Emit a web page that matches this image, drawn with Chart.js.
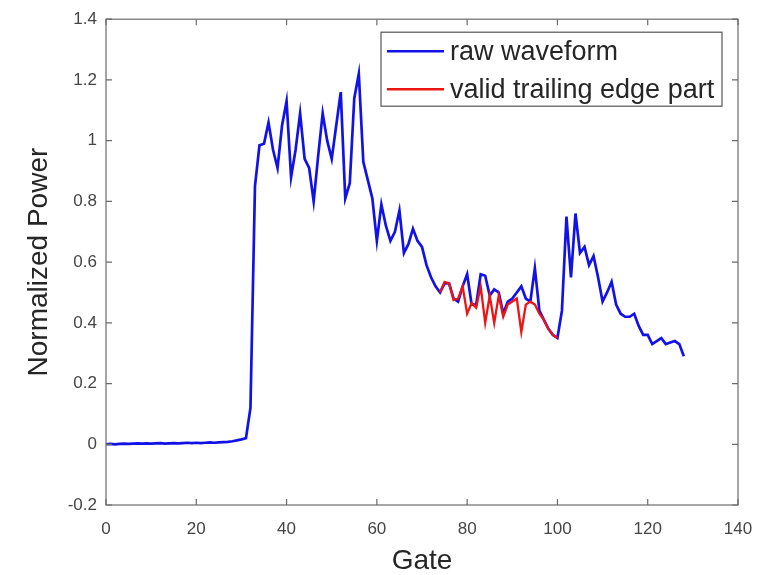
<!DOCTYPE html>
<html>
<head>
<meta charset="utf-8">
<script src="https://cdn.jsdelivr.net/npm/chart.js@4"></script>
<style>
  html, body { margin: 0; padding: 0; background: #fff; }
  #wrap { width: 771px; height: 575px; }
</style>
</head>
<body>
<div id="wrap"><canvas id="chart"></canvas></div>
<script>
'use strict';

// ── Datos ───────────────────────────────────────────
const gates = [
  0, 1, 2, 3, 4, 5, 6, 7, 8, 9,
  10, 11, 12, 13, 14, 15, 16, 17, 18, 19,
  20, 21, 22, 23, 24, 25, 26, 27, 28, 29,
  30, 31, 32, 33, 34, 35, 36, 37, 38, 39,
  40, 41, 42, 43, 44, 45, 46, 47, 48, 49,
  50, 51, 52, 53, 54, 55, 56, 57, 58, 59,
  60, 61, 62, 63, 64, 65, 66, 67, 68, 69,
  70, 71, 72, 73, 74, 75, 76, 77, 78, 79,
  80, 81, 82, 83, 84, 85, 86, 87, 88, 89,
  90, 91, 92, 93, 94, 95, 96, 97, 98, 99,
  100, 101, 102, 103, 104, 105, 106, 107, 108, 109,
  110, 111, 112, 113, 114, 115, 116, 117, 118, 119,
  120, 121, 122, 123, 124, 125, 126, 127, 128,
];
const rawWaveform = [
  0.000, 0.001, 0.000, 0.001, 0.002, 0.001, 0.002, 0.003, 0.002, 0.003,
  0.002, 0.003, 0.004, 0.002, 0.003, 0.004, 0.003, 0.004, 0.005, 0.004,
  0.005, 0.004, 0.005, 0.006, 0.005, 0.006, 0.007, 0.008, 0.010, 0.013,
  0.016, 0.020, 0.120, 0.850, 0.985, 0.990, 1.060, 0.970, 0.910, 1.050,
  1.130, 0.880, 0.970, 1.090, 0.940, 0.910, 0.800, 0.950, 1.090, 1.000,
  0.940, 1.050, 1.160, 0.810, 0.860, 1.140, 1.220, 0.930, 0.870, 0.810,
  0.670, 0.790, 0.720, 0.670, 0.700, 0.770, 0.630, 0.660, 0.710, 0.670,
  0.650, 0.590, 0.550, 0.520, 0.500, 0.530, 0.530, 0.480, 0.470, 0.520,
  0.560, 0.460, 0.460, 0.560, 0.555, 0.490, 0.510, 0.500, 0.430, 0.470,
  0.480, 0.500, 0.520, 0.480, 0.470, 0.580, 0.440, 0.410, 0.380, 0.360,
  0.350, 0.440, 0.750, 0.550, 0.760, 0.630, 0.650, 0.590, 0.620, 0.550,
  0.470, 0.500, 0.535, 0.460, 0.430, 0.420, 0.420, 0.430, 0.390, 0.360,
  0.360, 0.330, 0.340, 0.350, 0.330, 0.335, 0.340, 0.330, 0.290,
];
const validGates = [
  74, 75, 76, 77, 78, 79, 80, 81, 82, 83,
  84, 85, 86, 87, 88, 89, 90, 91, 92, 93,
  94, 95, 96, 97, 98, 99, 100,
];
const validTrailing = [
  0.500, 0.535, 0.530, 0.475, 0.480, 0.520, 0.430, 0.465, 0.450, 0.520,
  0.400, 0.490, 0.400, 0.490, 0.420, 0.460, 0.470, 0.480, 0.370, 0.460,
  0.470, 0.460, 0.430, 0.410, 0.380, 0.360, 0.350,
];
const xTicks = [0, 20, 40, 60, 80, 100, 120, 140];
const yTicks = [-0.2, 0, 0.2, 0.4, 0.6, 0.8, 1, 1.2, 1.4];
const yTickLabels = ['-0.2', '0', '0.2', '0.4', '0.6', '0.8', '1', '1.2', '1.4'];

const FONT = '"Liberation Sans", Arial, sans-serif';
const AXIS = '#6b6b6b';
const TXT = '#454545';

// Caja estilo MATLAB: borde + ticks hacia adentro en los cuatro lados
const cajaEjes = {
  id: 'cajaEjes',
  afterDatasetsDraw(chart) {
    const { ctx, chartArea: a, scales: { x, y } } = chart;
    const L = 6;
    ctx.save();
    ctx.strokeStyle = AXIS;
    ctx.lineWidth = 1.2;
    ctx.strokeRect(a.left, a.top, a.right - a.left, a.bottom - a.top);
    ctx.beginPath();
    xTicks.forEach(t => {
      const px = x.getPixelForValue(t);
      ctx.moveTo(px, a.bottom); ctx.lineTo(px, a.bottom - L);
      ctx.moveTo(px, a.top); ctx.lineTo(px, a.top + L);
    });
    yTicks.forEach(t => {
      const py = y.getPixelForValue(t);
      ctx.moveTo(a.left, py); ctx.lineTo(a.left + L, py);
      ctx.moveTo(a.right, py); ctx.lineTo(a.right - L, py);
    });
    ctx.stroke();
    ctx.restore();
  },
};

// Leyenda dentro del área de ejes (arriba a la derecha)
const leyendaInterna = {
  id: 'leyendaInterna',
  afterDraw(chart) {
    const { ctx, chartArea: a } = chart;
    const right = a.right - 16, top = a.top + 13;
    const w = 341, h = 74, left = right - w;
    ctx.save();
    ctx.fillStyle = '#fff';
    ctx.fillRect(left, top, w, h);
    ctx.strokeStyle = '#555';
    ctx.lineWidth = 1.2;
    ctx.strokeRect(left, top, w, h);
    ctx.font = `27px ${FONT}`;
    ctx.textBaseline = 'middle';
    chart.data.datasets.forEach((ds, i) => {
      const yy = top + 19 + i * 38;
      ctx.strokeStyle = ds.borderColor;
      ctx.lineWidth = 2.5;
      ctx.beginPath();
      ctx.moveTo(left + 6, yy); ctx.lineTo(left + 63, yy);
      ctx.stroke();
      ctx.fillStyle = '#262626';
      ctx.fillText(ds.label, left + 69, yy + 1);
    });
    ctx.restore();
  },
};

new Chart(document.getElementById('chart'), {
  type: 'line',
  data: {
    datasets: [
      {
        label: 'raw waveform',
        data: gates.map((g, i) => ({ x: g, y: rawWaveform[i] })),
        borderColor: '#1212e8', borderWidth: 2.7,
        pointRadius: 0, tension: 0, order: 1,
      },
      {
        label: 'valid trailing edge part',
        data: validGates.map((g, i) => ({ x: g, y: validTrailing[i] })),
        borderColor: '#ee1414', borderWidth: 2.3,
        pointRadius: 0, tension: 0, order: 0,
      },
    ],
  },
  options: {
    responsive: true, maintainAspectRatio: false, animation: false,
    layout: { padding: { top: 15, right: 33, left: 0, bottom: 0 } },
    plugins: { legend: { display: false }, tooltip: { enabled: false } },
    scales: {
      x: {
        type: 'linear', min: 0, max: 140,
        grid: { display: false, drawTicks: false },
        border: { display: false },
        afterBuildTicks: s => { s.ticks = xTicks.map(v => ({ value: v })); },
        afterFit: s => { s.height = 70; },
        ticks: { padding: 14, color: TXT, font: { family: FONT, size: 17 }, maxRotation: 0 },
        title: {
          display: true, text: 'Gate', color: '#262626',
          font: { family: FONT, size: 28, lineHeight: 1 }, padding: { top: 0, bottom: 0 },
        },
      },
      y: {
        type: 'linear', min: -0.2, max: 1.4,
        grid: { display: false, drawTicks: false },
        border: { display: false },
        afterBuildTicks: s => { s.ticks = yTicks.map(v => ({ value: v })); },
        afterFit: s => { s.width = 106; },
        ticks: {
          padding: 9, color: TXT, font: { family: FONT, size: 17 },
          callback: (v, i) => yTickLabels[i],
        },
        title: {
          display: true, text: 'Normalized Power', color: '#262626',
          font: { family: FONT, size: 28, lineHeight: 1 }, padding: { top: 25, bottom: 0 },
        },
      },
    },
  },
  plugins: [cajaEjes, leyendaInterna],
});
</script>
</body>
</html>
